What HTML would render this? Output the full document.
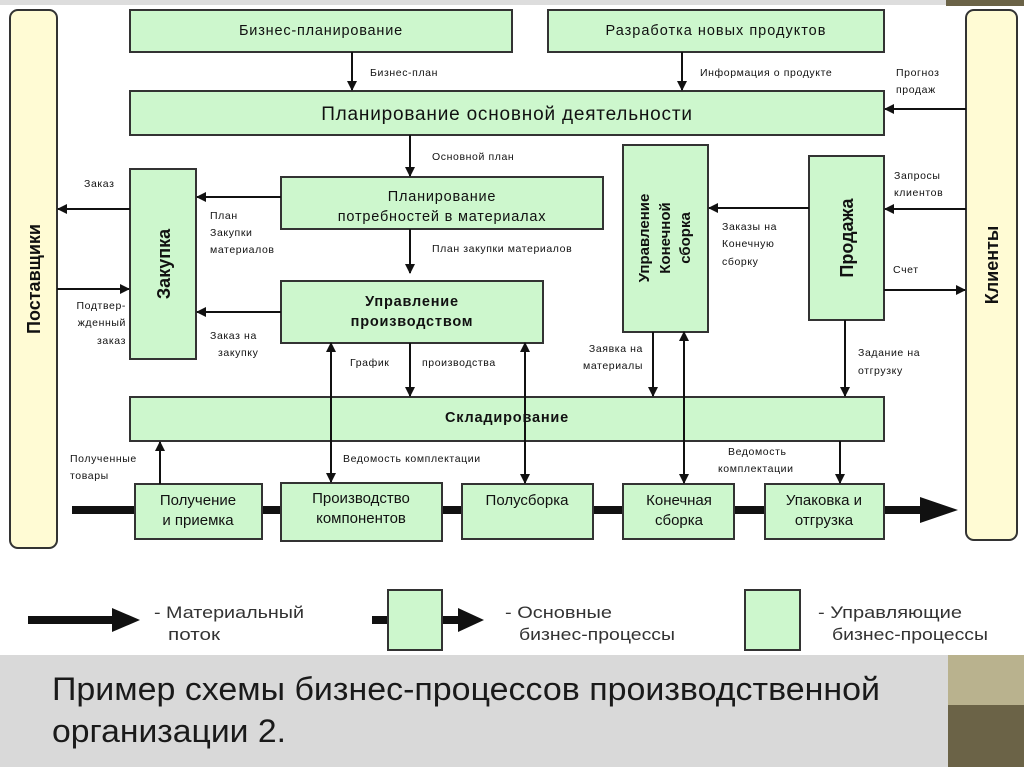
<!DOCTYPE html>
<html><head><meta charset="utf-8"><style>
html,body{margin:0;padding:0;width:1024px;height:767px;overflow:hidden;background:#fff}
svg{display:block}
text{font-family:"Liberation Sans",sans-serif;fill:#111}
.s{font-size:10.5px;letter-spacing:0.6px}
.b{font-size:14.5px;letter-spacing:0.8px}
.bb{font-size:14.5px;font-weight:bold;letter-spacing:0.8px}
.v{font-size:18px;font-weight:bold}
.n{font-family:"Liberation Sans Narrow","Liberation Sans",sans-serif;font-size:15px}
.l{font-family:"Liberation Sans Narrow","Liberation Sans",sans-serif;font-size:17px;fill:#333}
</style></head><body>
<svg width="1024" height="767" viewBox="0 0 1024 767">
<defs>
<marker id="a" markerWidth="10" markerHeight="10" refX="9" refY="5" orient="auto" markerUnits="userSpaceOnUse"><path d="M0,0 L10,5 L0,10 Z" fill="#111"/></marker>
<marker id="ar" markerWidth="10" markerHeight="10" refX="1" refY="5" orient="auto" markerUnits="userSpaceOnUse"><path d="M10,0 L0,5 L10,10 Z" fill="#111"/></marker>
</defs>
<rect x="0" y="0" width="1024" height="767" fill="#fff"/>
<rect x="0" y="0" width="1024" height="5" fill="#ddd"/>
<rect x="946" y="0" width="78" height="6" fill="#6b6347"/>
<rect x="0" y="655" width="948" height="112" fill="#d9d9d9"/>
<rect x="948" y="655" width="76" height="112" fill="#b9b28e"/>
<rect x="948" y="705" width="76" height="62" fill="#6b6347"/>
<g stroke="#333" stroke-width="2" fill="#cdf7cd">
<rect x="10" y="10" width="47" height="538" rx="8" fill="#fffbd4"/>
<rect x="966" y="10" width="51" height="530" rx="8" fill="#fffbd4"/>
<rect x="130" y="10" width="382" height="42"/>
<rect x="548" y="10" width="336" height="42"/>
<rect x="130" y="91" width="754" height="44"/>
<rect x="130" y="169" width="66" height="190"/>
<rect x="281" y="177" width="322" height="52"/>
<rect x="281" y="281" width="262" height="62"/>
<rect x="623" y="145" width="85" height="187"/>
<rect x="809" y="156" width="75" height="164"/>
<rect x="130" y="397" width="754" height="44"/>
</g>
<line x1="72" y1="510" x2="925" y2="510" stroke="#111" stroke-width="8"/>
<path d="M920,497 L958,510 L920,523 Z" fill="#111"/>
<g stroke="#333" stroke-width="2" fill="#cdf7cd">
<rect x="135" y="484" width="127" height="55"/>
<rect x="281" y="483" width="161" height="58"/>
<rect x="462" y="484" width="131" height="55"/>
<rect x="623" y="484" width="111" height="55"/>
<rect x="765" y="484" width="119" height="55"/>
</g>
<g stroke="#111" stroke-width="2" fill="none" marker-end="url(#a)">
<line x1="352" y1="52" x2="352" y2="90"/>
<line x1="682" y1="52" x2="682" y2="90"/>
<line x1="966" y1="109" x2="885" y2="109"/>
<line x1="410" y1="135" x2="410" y2="176"/>
<line x1="130" y1="209" x2="58" y2="209"/>
<line x1="281" y1="197" x2="197" y2="197"/>
<line x1="57" y1="289" x2="129" y2="289"/>
<line x1="281" y1="312" x2="197" y2="312"/>
<line x1="410" y1="229" x2="410" y2="273"/>
<line x1="410" y1="343" x2="410" y2="396"/>
<line x1="331" y1="343" x2="331" y2="482" marker-start="url(#ar)"/>
<line x1="525" y1="343" x2="525" y2="483" marker-start="url(#ar)"/>
<line x1="653" y1="332" x2="653" y2="396"/>
<line x1="684" y1="332" x2="684" y2="483" marker-start="url(#ar)"/>
<line x1="809" y1="208" x2="709" y2="208"/>
<line x1="966" y1="209" x2="885" y2="209"/>
<line x1="884" y1="290" x2="965" y2="290"/>
<line x1="845" y1="320" x2="845" y2="396"/>
<line x1="840" y1="441" x2="840" y2="483"/>
<line x1="160" y1="484" x2="160" y2="442"/>
</g>
<text class="b" x="321" y="35" text-anchor="middle">Бизнес-планирование</text>
<text class="b" x="716" y="35" text-anchor="middle" style="letter-spacing:1px">Разработка новых продуктов</text>
<text x="507" y="120" text-anchor="middle" style="font-size:19px;letter-spacing:0.8px">Планирование основной деятельности</text>
<text class="b" x="442" y="201" text-anchor="middle">Планирование</text>
<text class="b" x="442" y="221" text-anchor="middle">потребностей в материалах</text>
<text class="bb" x="412" y="306" text-anchor="middle">Управление</text>
<text class="bb" x="412" y="326" text-anchor="middle">производством</text>
<text class="bb" x="507" y="422" text-anchor="middle">Складирование</text>
<text class="v" transform="translate(40,279) rotate(-90)" text-anchor="middle">Поставщики</text>
<text class="v" transform="translate(998,265) rotate(-90)" text-anchor="middle">Клиенты</text>
<text class="v" transform="translate(170,264) rotate(-90)" text-anchor="middle">Закупка</text>
<text class="v" transform="translate(853,238) rotate(-90)" text-anchor="middle">Продажа</text>
<text class="v" transform="translate(649,238) rotate(-90)" text-anchor="middle" style="font-size:15px">Управление</text>
<text class="v" transform="translate(670,238) rotate(-90)" text-anchor="middle" style="font-size:15px">Конечной</text>
<text class="v" transform="translate(690,238) rotate(-90)" text-anchor="middle" style="font-size:15px">сборка</text>
<text class="s" x="370" y="76">Бизнес-план</text>
<text class="s" x="700" y="76">Информация о продукте</text>
<text class="s" x="896" y="76">Прогноз</text>
<text class="s" x="896" y="93">продаж</text>
<text class="s" x="432" y="160">Основной план</text>
<text class="s" x="84" y="187">Заказ</text>
<text class="s" x="210" y="219">План</text>
<text class="s" x="210" y="236">Закупки</text>
<text class="s" x="210" y="253">материалов</text>
<text class="s" x="432" y="252">План закупки материалов</text>
<text class="s" x="126" y="309" text-anchor="end">Подтвер-</text>
<text class="s" x="126" y="326" text-anchor="end">жденный</text>
<text class="s" x="126" y="344" text-anchor="end">заказ</text>
<text class="s" x="210" y="339">Заказ на</text>
<text class="s" x="218" y="356">закупку</text>
<text class="s" x="350" y="366">График</text>
<text class="s" x="422" y="366">производства</text>
<text class="s" x="643" y="352" text-anchor="end">Заявка на</text>
<text class="s" x="643" y="369" text-anchor="end">материалы</text>
<text class="s" x="722" y="230">Заказы на</text>
<text class="s" x="722" y="247">Конечную</text>
<text class="s" x="722" y="265">сборку</text>
<text class="s" x="894" y="179">Запросы</text>
<text class="s" x="894" y="196">клиентов</text>
<text class="s" x="893" y="273">Счет</text>
<text class="s" x="858" y="356">Задание на</text>
<text class="s" x="858" y="374">отгрузку</text>
<text class="s" x="343" y="462">Ведомость комплектации</text>
<text class="s" x="728" y="455">Ведомость</text>
<text class="s" x="718" y="472">комплектации</text>
<text class="s" x="70" y="462">Полученные</text>
<text class="s" x="70" y="479">товары</text>
<text class="n" x="198" y="505" text-anchor="middle">Получение</text>
<text class="n" x="198" y="525" text-anchor="middle">и приемка</text>
<text class="n" x="361" y="503" text-anchor="middle">Производство</text>
<text class="n" x="361" y="523" text-anchor="middle">компонентов</text>
<text class="n" x="527" y="505" text-anchor="middle">Полусборка</text>
<text class="n" x="679" y="505" text-anchor="middle">Конечная</text>
<text class="n" x="679" y="525" text-anchor="middle">сборка</text>
<text class="n" x="824" y="505" text-anchor="middle">Упаковка и</text>
<text class="n" x="824" y="525" text-anchor="middle">отгрузка</text>
<line x1="28" y1="620" x2="118" y2="620" stroke="#111" stroke-width="8"/>
<path d="M112,608 L140,620 L112,632 Z" fill="#111"/>
<text class="l" x="154" y="618" textLength="150" lengthAdjust="spacingAndGlyphs">- Материальный</text>
<text class="l" x="168" y="640" textLength="52" lengthAdjust="spacingAndGlyphs">поток</text>
<line x1="372" y1="620" x2="470" y2="620" stroke="#111" stroke-width="8"/>
<path d="M458,608 L484,620 L458,632 Z" fill="#111"/>
<rect x="388" y="590" width="54" height="60" fill="#cdf7cd" stroke="#333" stroke-width="2"/>
<text class="l" x="505" y="618" textLength="107" lengthAdjust="spacingAndGlyphs">- Основные</text>
<text class="l" x="519" y="640" textLength="156" lengthAdjust="spacingAndGlyphs">бизнес-процессы</text>
<rect x="745" y="590" width="55" height="60" fill="#cdf7cd" stroke="#333" stroke-width="2"/>
<text class="l" x="818" y="618" textLength="144" lengthAdjust="spacingAndGlyphs">- Управляющие</text>
<text class="l" x="832" y="640" textLength="156" lengthAdjust="spacingAndGlyphs">бизнес-процессы</text>
<text x="52" y="700" textLength="828" lengthAdjust="spacingAndGlyphs" style="font-size:32px;fill:#1a1a1a">Пример схемы бизнес-процессов производственной</text>
<text x="52" y="742" textLength="234" lengthAdjust="spacingAndGlyphs" style="font-size:32px;fill:#1a1a1a">организации 2.</text>
</svg>
</body></html>
